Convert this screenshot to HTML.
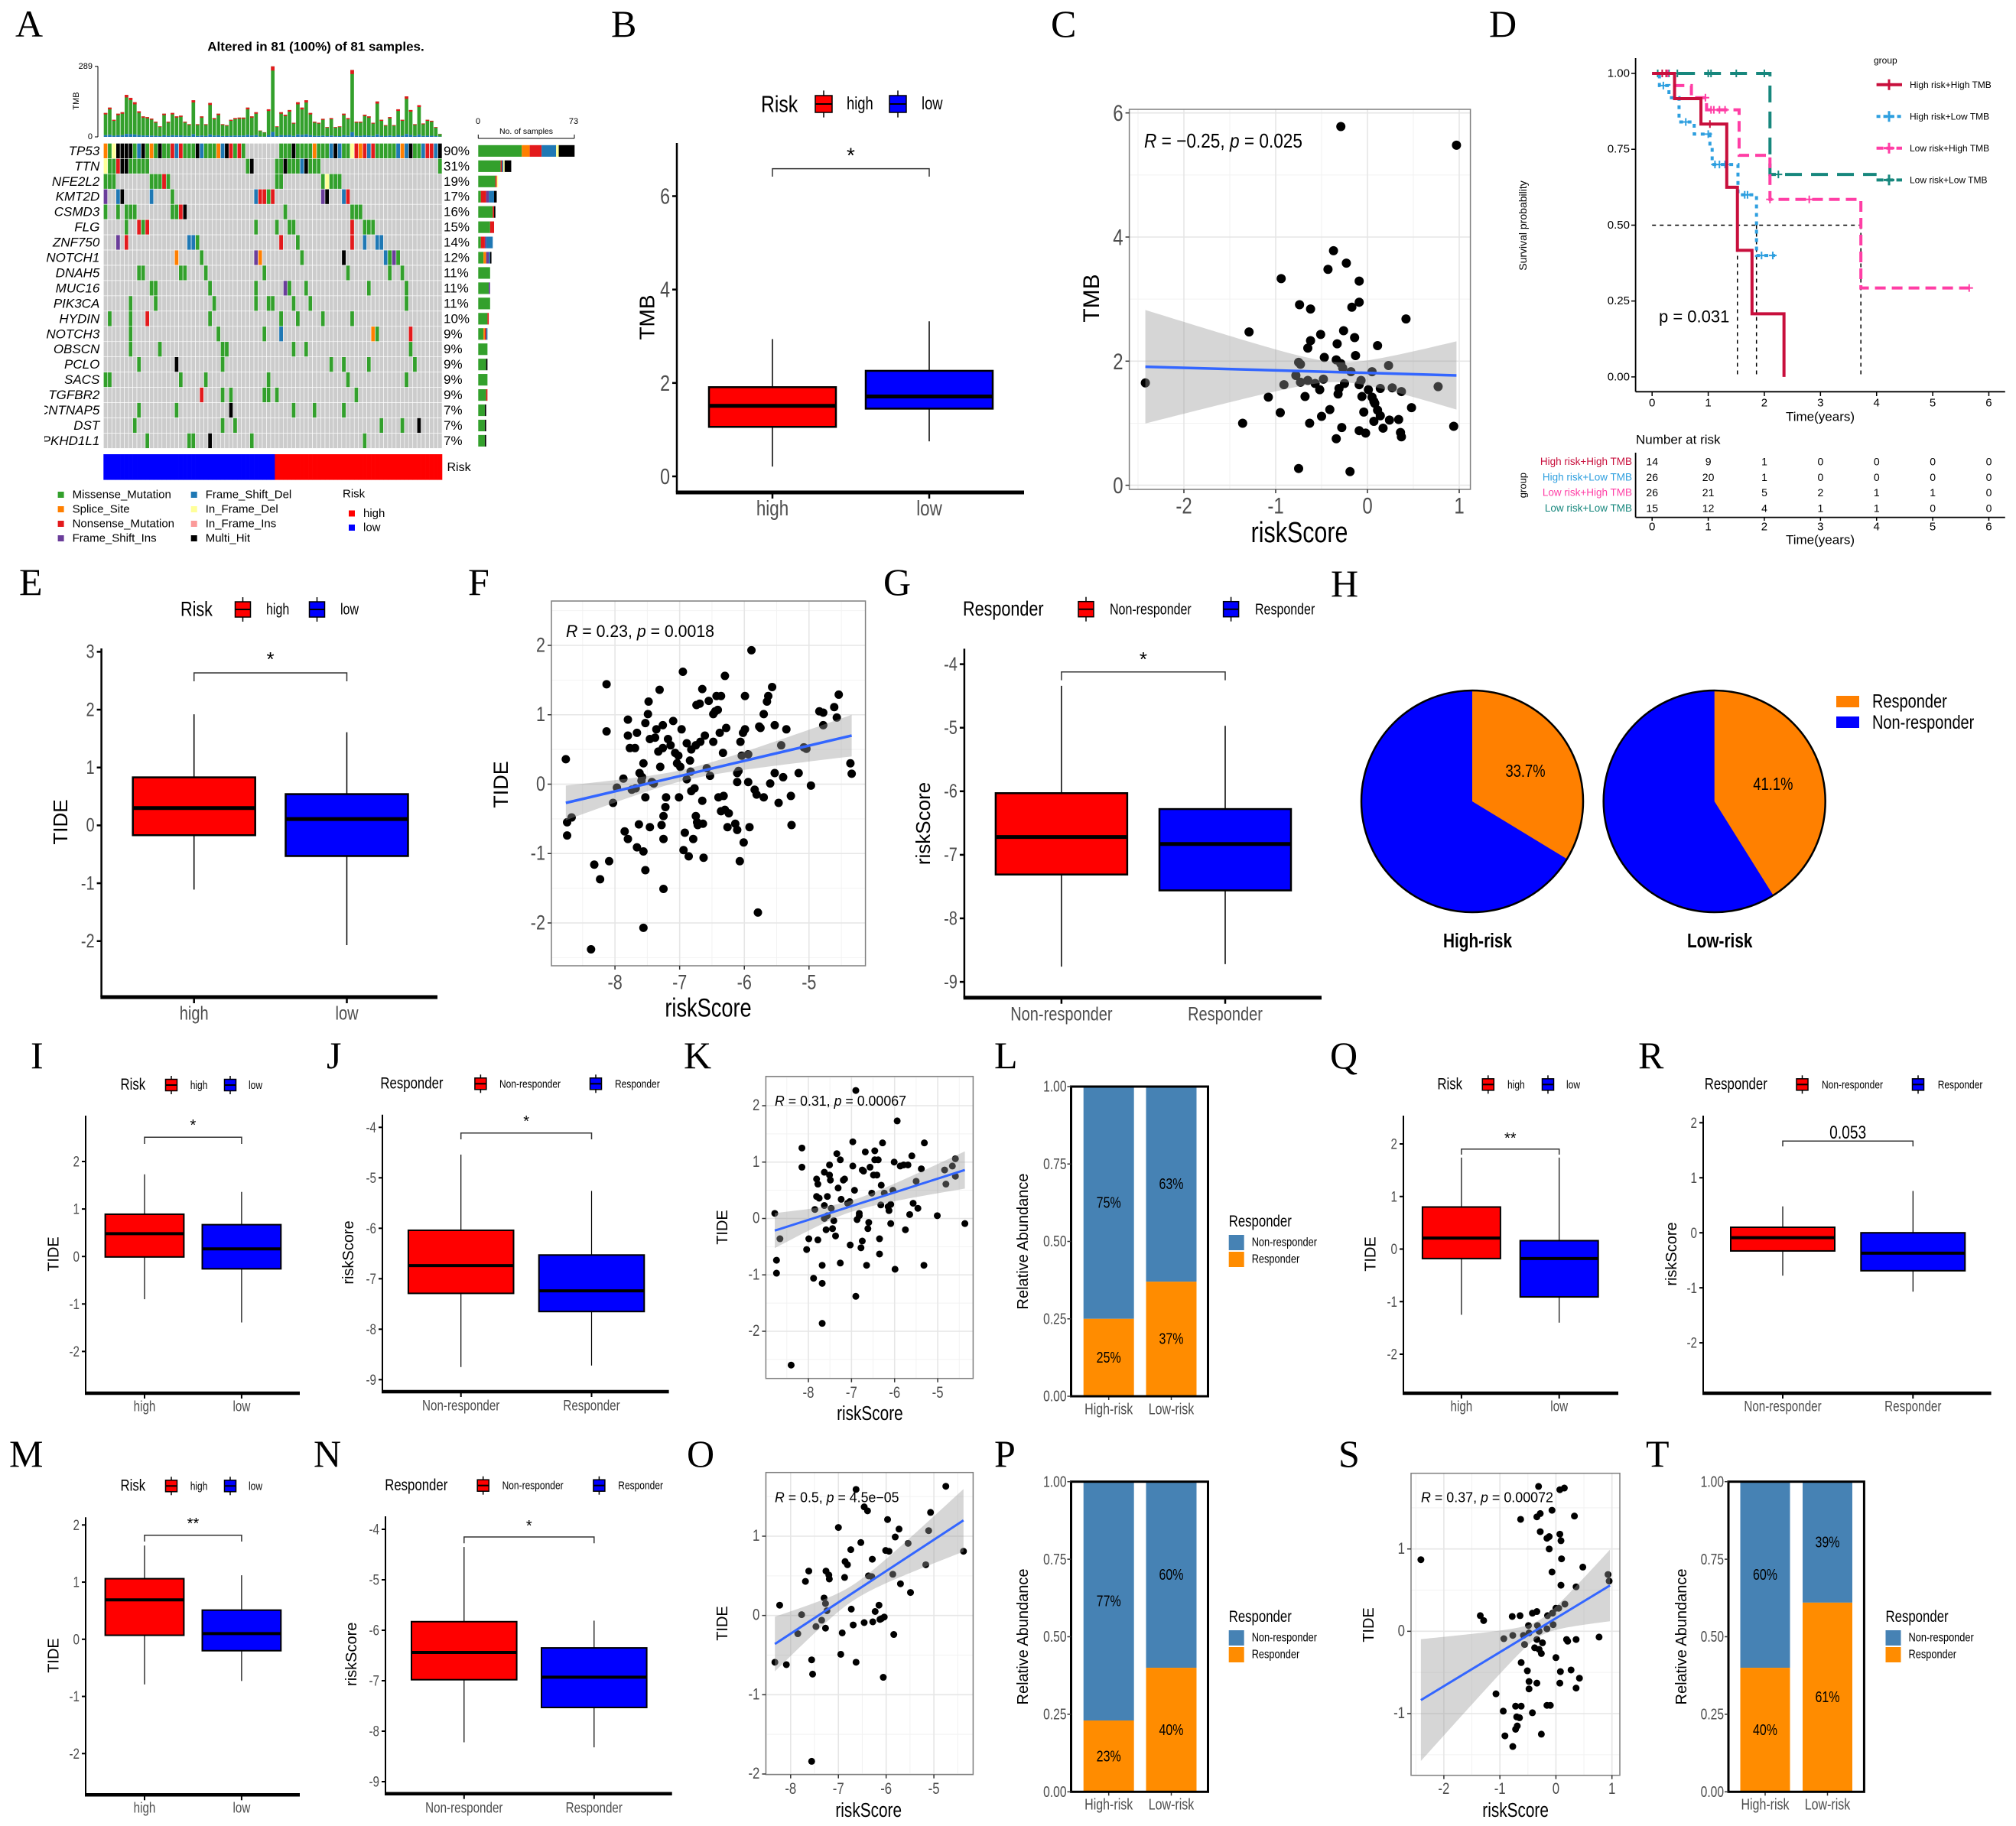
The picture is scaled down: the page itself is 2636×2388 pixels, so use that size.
<!DOCTYPE html>
<html><head><meta charset="utf-8">
<style>html,body{margin:0;padding:0;background:#fff}svg{display:block}</style>
</head><body>
<svg id="fig" width="2636" height="2388" viewBox="0 0 2636 2388" xmlns="http://www.w3.org/2000/svg">
<rect x="0" y="0" width="2636" height="2388" fill="#fff"/>
<g font-family="Liberation Serif, serif" font-size="50" fill="#000">
<text x="20" y="48">A</text>
<text x="799" y="48">B</text>
<text x="1374" y="48">C</text>
<text x="1947" y="48">D</text>
<text x="25" y="778">E</text>
<text x="612" y="778">F</text>
<text x="1155" y="778">G</text>
<text x="1740" y="780">H</text>
<text x="40" y="1397">I</text>
<text x="427" y="1397">J</text>
<text x="894" y="1397">K</text>
<text x="1300" y="1397">L</text>
<text x="1739" y="1397">Q</text>
<text x="2142" y="1397">R</text>
<text x="12" y="1918">M</text>
<text x="410" y="1918">N</text>
<text x="898" y="1918">O</text>
<text x="1300" y="1918">P</text>
<text x="1750" y="1918">S</text>
<text x="2152" y="1918">T</text>
</g>
</svg>
<script>
// ================= DATA =================
// Panel A oncoplot
const A_genes=['TP53','TTN','NFE2L2','KMT2D','CSMD3','FLG','ZNF750','NOTCH1','DNAH5','MUC16','PIK3CA','HYDIN','NOTCH3','OBSCN','PCLO','SACS','TGFBR2','CNTNAP5','DST','PKHD1L1'];
const A_muts=[
"0S,1M,2d,3X,4X,5X,6X,7M,8D,9X,10M,11S,12M,13X,14M,15M,16N,17D,18N,19M,20M,21M,22X,23D,24M,25M,26M,27S,28D,29X,30N,31M,32N,33M,42M,43M,44M,45X,46M,47M,48M,49M,50S,51M,52M,53M,54D,55X,56D,57M,58M,59d,60N,61S,62N,63D,64N,65M,66M,67M,68M,69M,70D,71S,72D,73X,74M,75M,76D,77N,78N,79D,80X",
"0d,1M,2M,3N,4X,5X,6M,7M,8M,9M,10M,34M,35X,41M,42M,43X,44M,45M,46M,47D,48X,49M,50M,51M,80M",
"0M,1M,2M,11M,12M,13M,14N,15M,41M,42M,52M,53d,54M,55M,56M",
"0I,3D,4X,11D,16M,36D,37N,38N,39M,40N,52I,53X,57D,58N",
"0M,3M,5M,6M,7M,16M,17M,18N,19X,43M,59M,60M,61M",
"5M,8N,9M,10N,36M,41M,44M,45M,59N,62M,63M,64M",
"3I,5N,20D,21D,22M,42N,46M,59N,62D,65D,66D",
"17S,23M,36I,37S,47M,57X,67D,68M,69I,70M",
"8M,9M,18M,19M,24M,38M,58M,68M,71M",
"11M,12M,25M,36M,43I,44M,48M,63M,72M",
"6M,12M,26M,36M,39M,40M,45M,49M,72M",
"1M,6M,10N,25M,42M,46M,52M,59M",
"6M,27M,38M,42D,64S,65M,73N",
"6M,13M,28M,29M,45M,48M,73M",
"8M,17X,28M,54M,57M,63M,74M",
"0M,1M,18M,24M,39M,58M,72M",
"23N,28M,30M,38M,39M,41M,60M",
"8M,17M,30X,45M,50M,57M",
"7M,28M,31M,66M,71M,75X",
"10M,20M,21M,25X,35M,62M"];
const A_tmb=[98,120,70,95,101,172,160,142,105,84,81,75,62,43,95,62,98,84,87,62,52,150,52,84,52,139,77,95,52,48,70,77,79,79,120,84,101,26,19,113,289,43,101,91,110,58,142,120,150,98,62,58,74,40,77,40,43,95,77,274,62,62,91,84,58,145,70,48,81,48,113,70,166,110,52,130,55,70,66,40,12];
const A_risk='LLLLLLLLLLLLLLLLLLLLLLLLLLLLLLLLLLLLLLLLLHHHHHHHHHHHHHHHHHHHHHHHHHHHHHHHHHHHHHHHH';
const A_nSamples=81;
// Panel B
const B_groups=['high','low'];
const B_q1=[1.06,1.45], B_med=[1.51,1.71], B_q3=[1.91,2.26], B_lo=[0.21,0.75], B_hi=[2.94,3.32];
const B_ticks=[0,2,4,6];
// Panel C
const C_x=[-0.29,0.97,-0.37,-0.23,-0.43,-0.09,-0.94,-0.74,-0.62,-0.09,-0.17,0.42,-1.29,-0.26,-0.51,-0.14,-0.62,-0.33,-0.65,0.11,-0.47,-0.13,-0.75,-0.34,-0.73,-0.29,-0.27,0.23,0.05,-0.78,-0.07,-0.48,-0.65,-0.57,-0.73,-0.25,-0.91,0.77,-0.52,-0.31,-0.09,0.01,0.14,0.27,0.37,-1.08,-0.68,-0.32,-0.06,0.05,0.07,0.08,-0.41,0.48,-0.95,-0.04,0.11,0.14,-0.50,0.24,0.34,0.07,-1.36,-0.63,-0.28,0.17,0.94,-0.09,-0.02,0.36,0.37,-0.34,-0.75,-0.19,-2.42,-0.18];
const C_y=[5.78,5.48,3.78,3.58,3.48,3.29,3.33,2.91,2.84,2.95,2.87,2.68,2.47,2.49,2.43,2.38,2.33,2.28,2.21,2.25,2.06,2.09,1.98,2.02,1.95,1.96,1.89,1.93,1.83,1.77,1.69,1.71,1.69,1.64,1.66,1.64,1.62,1.59,1.54,1.56,1.62,1.54,1.56,1.57,1.51,1.42,1.43,1.47,1.43,1.42,1.35,1.32,1.22,1.25,1.17,1.18,1.21,1.12,1.11,1.05,1.06,1.03,1.00,1.00,0.93,0.92,0.95,0.88,0.84,0.85,0.78,0.75,0.27,0.22,1.65,1.83];
const C_fitX=[-2.42,0.97], C_fitY=[1.91,1.77];
const C_band=[-0.3,0.16,0.915,0.55];
const C_xticks=[-2,-1,0,1], C_yticks=[0,2,4,6];
// Panel D
const D_labels=['High risk+High TMB','High risk+Low TMB','Low risk+High TMB','Low risk+Low TMB'];
const D_HH_t=[0,0.4,0.87,1.33,1.52,1.78,2.35], D_HH_s=[1,0.917,0.833,0.625,0.417,0.208,0];
const D_HL_t=[0,0.13,0.3,0.48,0.75,1.03,1.07,1.53,1.86], D_HL_s=[1,0.96,0.92,0.84,0.80,0.76,0.70,0.60,0.40];
const D_LH_t=[0,0.4,0.7,0.97,1.55,2.1,3.72], D_LH_s=[1,0.96,0.92,0.88,0.73,0.585,0.293];
const D_LL_t=[0,2.1], D_LL_s=[1,0.667];
const D_end=[2.35,2.19,5.7,4.0];
const D_HH_c=[0.18,0.25,1.03], D_HL_c=[0.2,0.6,1.0,1.12,1.2,1.3,1.65,1.7,1.95,2.15];
const D_LH_c=[0.28,0.95,1.05,1.1,1.2,1.3,2.1,2.8,5.65], D_LL_c=[0.1,0.3,0.45,1.0,1.05,1.5,2.0,2.25];
const D_risk=[[14,9,1,0,0,0,0],[26,20,1,0,0,0,0],[26,21,5,2,1,1,0],[15,12,4,1,1,0,0]];
const D_pval='p = 0.031';
// Panel E
const E_groups=['high','low'];
const E_q1=[-0.17,-0.53], E_med=[0.30,0.11], E_q3=[0.83,0.54], E_lo=[-1.11,-2.07], E_hi=[1.92,1.61];
const E_ticks=[-2,-1,0,1,2,3];
// Panel F
const F_x=[-8.76,-8.74,-8.74,-8.67,-8.32,-8.23,-8.09,-8.13,-8.13,-8.03,-7.97,-7.87,-7.85,-7.80,-7.80,-7.80,-7.77,-7.74,-7.69,-7.68,-7.66,-7.66,-7.63,-7.62,-7.59,-7.58,-7.56,-7.56,-7.53,-7.53,-7.56,-7.53,-7.49,-7.48,-7.46,-7.46,-7.43,-7.40,-7.38,-7.36,-7.33,-7.31,-7.30,-7.28,-7.26,-7.26,-7.25,-7.25,-7.25,-7.22,-7.21,-7.18,-7.14,-7.10,-7.07,-7.04,-7.02,-7.01,-6.99,-6.97,-6.95,-6.94,-6.92,-6.89,-6.89,-6.86,-6.84,-6.83,-6.82,-6.82,-6.79,-6.77,-6.75,-6.75,-6.74,-6.73,-6.72,-6.69,-6.68,-6.65,-6.65,-6.64,-6.63,-6.61,-6.58,-6.55,-6.53,-6.48,-6.48,-6.45,-6.43,-6.41,-6.40,-6.38,-6.36,-6.36,-6.33,-6.32,-6.30,-6.30,-6.28,-6.26,-6.24,-6.14,-6.11,-6.11,-6.11,-6.09,-6.07,-6.06,-6.04,-6.02,-6.01,-5.99,-5.99,-5.94,-5.94,-5.92,-5.89,-5.84,-5.81,-5.79,-5.77,-5.75,-5.70,-5.70,-5.65,-5.63,-5.60,-5.57,-5.53,-5.53,-5.47,-5.43,-5.40,-5.35,-5.28,-5.27,-5.16,-5.08,-5.04,-4.97,-4.84,-4.78,-4.78,-4.61,-4.57,-4.54,-4.36,-4.34,-8.37];
const F_y=[0.36,-0.74,-0.55,-0.48,-1.16,-1.37,-1.11,1.44,0.76,-0.27,-0.05,0.08,-0.68,-0.79,0.93,0.70,0.52,-0.08,0.52,-0.06,0.74,-0.91,-0.58,0.16,0.05,0.10,0.30,-0.97,-0.19,-1.24,-2.07,0.88,1.01,1.19,0.65,-0.62,0.03,0.01,0.67,0.79,0.47,1.36,0.25,-0.59,0.85,0.52,-1.51,-0.79,-0.46,-0.33,-0.19,0.65,0.56,0.91,0.45,0.30,0.41,-0.19,0.25,0.79,1.62,-0.95,-0.70,0.07,0.59,-1.04,0.34,0.18,-0.10,0.50,-0.79,-0.06,0.56,-0.46,1.14,-0.55,-0.59,1.16,0.61,1.37,-0.24,-0.57,-1.06,0.70,0.23,1.20,0.12,1.01,0.61,1.05,1.27,1.07,-0.19,0.74,-0.39,1.27,0.45,-0.17,1.56,-0.37,0.81,-0.62,-0.42,-0.57,0.16,0.03,-0.66,0.19,-1.11,0.61,0.41,0.74,-0.84,1.27,0.79,0.03,0.43,-0.62,1.93,-0.08,-0.15,-1.85,0.83,0.81,1.01,-0.19,1.19,1.27,0.01,1.40,0.85,0.16,-0.27,0.56,0.10,0.79,-0.17,-0.59,0.16,0.53,0.51,-0.02,1.05,1.03,0.85,1.11,0.96,1.29,0.30,0.15,-2.38];
const F_fitX=[-8.76,-4.34], F_fitY=[-0.27,0.70];
const F_band=[-6.9,0.08,0.25,0.30];
const F_xticks=[-8,-7,-6,-5], F_yticks=[-2,-1,0,1,2];
// Panel G
const G_groups=['Non-responder','Responder'];
const G_q1=[-7.31,-7.56], G_med=[-6.72,-6.83], G_q3=[-6.03,-6.28], G_lo=[-8.76,-8.72], G_hi=[-4.34,-4.97];
const G_ticks=[-9,-8,-7,-6,-5,-4];
// Panel H
const H_groups=['High-risk','Low-risk'];
const H_respPct=[33.7,41.1];
// Panel I
const I_groups=['high','low'];
const I_q1=[-0.01,-0.26], I_med=[0.48,0.16], I_q3=[0.89,0.67], I_lo=[-0.90,-1.39], I_hi=[1.73,1.36];
const I_ticks=[-2,-1,0,1,2];
// Panel J
const J_groups=['Non-responder','Responder'];
const J_q1=[-7.29,-7.65], J_med=[-6.74,-7.24], J_q3=[-6.04,-6.53], J_lo=[-8.75,-8.72], J_hi=[-4.54,-5.26];
const J_ticks=[-9,-8,-7,-6,-5,-4];
// Panel K
const K_x=[-8.78,-8.66,-8.74,-8.74,-8.40,-8.15,-8.15,-8.04,-7.99,-7.88,-7.85,-7.81,-7.78,-7.78,-7.81,-7.75,-7.68,-7.68,-7.68,-7.63,-7.63,-7.63,-7.59,-7.56,-7.56,-7.51,-7.51,-7.49,-7.47,-7.44,-7.41,-7.37,-7.34,-7.31,-7.26,-7.26,-7.24,-7.19,-7.16,-7.09,-7.04,-7.03,-6.97,-6.97,-6.93,-6.90,-6.87,-6.82,-6.82,-6.78,-6.75,-6.75,-6.72,-6.68,-6.65,-6.62,-6.60,-6.57,-6.53,-6.49,-6.46,-6.46,-6.41,-6.38,-6.35,-6.35,-6.32,-6.31,-6.28,-6.24,-6.15,-6.13,-6.09,-6.09,-6.04,-6.01,-5.99,-5.94,-5.87,-5.79,-5.75,-5.69,-5.65,-5.60,-5.57,-5.50,-5.46,-5.38,-5.32,-5.31,-5.01,-4.84,-4.81,-4.66,-4.59,-4.59,-4.37,-6.90];
const K_y=[0.09,-0.36,-0.74,-0.97,-2.60,1.25,0.91,-0.55,-0.36,-1.06,0.16,0.70,0.61,-0.38,0.39,0.36,-1.15,-0.83,-1.86,0.82,0.23,0.00,-0.20,0.05,0.39,0.95,0.77,0.68,0.18,-0.18,-0.04,-0.31,1.15,0.54,1.04,-0.79,0.34,0.68,0.70,0.27,0.30,-0.47,1.36,0.93,0.50,-1.38,-0.02,0.05,0.09,-0.52,-0.40,0.86,0.84,1.18,-0.83,-0.18,-0.07,0.91,0.45,0.77,1.04,1.20,0.77,1.04,-0.63,-0.36,0.24,0.59,1.34,0.45,0.21,0.14,0.25,-0.09,0.50,1.00,-0.90,1.73,0.93,0.95,-0.20,0.95,0.07,1.11,0.27,0.66,0.18,0.88,-0.83,1.34,0.05,0.86,0.61,0.93,1.06,0.75,-0.09,2.27];
const K_fitX=[-8.78,-4.37], K_fitY=[-0.215,0.86];
const K_band=[-7.0,0.1,0.31,0.33];
const K_xticks=[-8,-7,-6,-5], K_yticks=[-2,-1,0,1,2];
// Panel L
const L_groups=['High-risk','Low-risk'];
const L_resp=[0.25,0.37];
// Panel M
const M_groups=['high','low'];
const M_q1=[0.07,-0.20], M_med=[0.69,0.10], M_q3=[1.06,0.51], M_lo=[-0.79,-0.73], M_hi=[1.64,1.12];
const M_ticks=[-2,-1,0,1,2];
// Panel N
const N_groups=['Non-responder','Responder'];
const N_q1=[-6.98,-7.53], N_med=[-6.44,-6.93], N_q3=[-5.83,-6.35], N_lo=[-8.22,-8.32], N_hi=[-4.35,-5.81];
const N_ticks=[-9,-8,-7,-6,-5,-4];
// Panel O
const O_x=[-8.23,-8.09,-8.33,-7.77,-7.85,-7.69,-7.62,-7.56,-7.54,-7.56,-7.47,-7.35,-7.27,-7.30,-7.27,-7.24,-7.26,-7.20,-7.19,-7.00,-6.92,-6.95,-6.87,-6.86,-6.81,-6.74,-6.73,-6.69,-6.63,-6.63,-6.53,-6.46,-6.46,-6.39,-6.37,-6.30,-6.29,-6.28,-6.23,-6.15,-6.13,-6.10,-6.06,-6.04,-6.01,-5.97,-5.94,-5.86,-5.84,-5.81,-5.73,-5.70,-5.54,-5.49,-5.17,-5.11,-5.07,-4.75,-4.38];
const O_y=[0.13,-0.62,-0.59,0.01,-0.23,0.43,0.56,-0.56,-0.74,-1.84,-0.14,-0.06,-0.16,0.22,0.15,0.06,0.56,0.51,0.46,1.11,-0.22,-0.49,0.48,0.68,0.64,0.83,0.08,-0.12,-0.59,1.59,0.92,-0.09,1.37,1.32,0.50,0.49,0.71,-0.08,0.05,0.13,-0.05,-0.04,-0.78,-0.02,0.82,1.21,0.81,0.52,-0.24,0.99,1.09,0.40,0.91,0.29,0.64,1.07,1.30,1.63,0.81];
const O_fitX=[-8.33,-4.38], O_fitY=[-0.36,1.20];
const O_band=[-6.7,0.1,0.345,0.395];
const O_xticks=[-8,-7,-6,-5], O_yticks=[-2,-1,0,1];
// Panel P
const P_groups=['High-risk','Low-risk'];
const P_resp=[0.23,0.40];
// Panel Q
const Q_groups=['high','low'];
const Q_q1=[-0.18,-0.91], Q_med=[0.21,-0.18], Q_q3=[0.80,0.16], Q_lo=[-1.25,-1.40], Q_hi=[1.74,1.74];
const Q_ticks=[-2,-1,0,1,2];
// Panel R
const R_groups=['Non-responder','Responder'];
const R_q1=[-0.33,-0.69], R_med=[-0.09,-0.37], R_q3=[0.10,0.0], R_lo=[-0.78,-1.07], R_hi=[0.48,0.76];
const R_ticks=[-2,-1,0,1,2];
// Panel S
const S_x=[-2.41,-0.31,0.07,0.15,-0.07,-0.28,-0.34,-0.63,0.33,-0.28,-0.12,0.07,-0.16,0.09,-0.12,0.10,0.48,-0.07,0.93,0.95,0.09,0.36,0.16,0.00,0.05,-0.34,-0.42,-0.06,-0.15,-0.64,-0.78,-1.35,-1.29,-0.49,-0.33,-0.05,-0.16,-0.30,-0.48,-0.77,-0.58,-0.93,-0.34,-0.24,0.19,0.21,0.36,0.77,-0.56,-0.38,-0.30,-0.26,0.00,-0.62,-0.51,0.08,0.27,0.42,-0.48,-0.34,0.07,0.36,-0.48,-1.07,-0.72,-0.62,-0.16,-0.10,-0.94,-0.42,-0.70,-0.65,-0.69,-0.72,-0.91,-0.26,-0.77];
const S_y=[0.87,1.76,1.72,1.74,1.47,1.43,1.39,1.36,1.40,1.21,1.15,1.18,1.13,1.10,1.00,0.88,0.78,0.72,0.69,0.61,0.56,0.54,0.33,0.28,0.28,0.24,0.22,0.22,0.19,0.19,0.18,0.19,0.13,0.07,0.07,0.08,0.03,0.00,-0.02,-0.05,-0.05,-0.09,-0.10,-0.14,-0.10,-0.12,-0.10,-0.07,-0.16,-0.20,-0.22,-0.27,-0.32,-0.38,-0.48,-0.49,-0.47,-0.57,-0.61,-0.63,-0.63,-0.69,-0.70,-0.76,-0.91,-0.91,-0.90,-0.90,-0.97,-0.99,-1.04,-1.05,-1.15,-1.19,-1.27,-1.25,-1.40];
const S_fitX=[-2.41,0.965], S_fitY=[-0.836,0.557];
const S_band=[-0.3,0.1,0.74,0.435];
const S_xticks=[-2,-1,0,1], S_yticks=[-1,0,1];
// Panel T
const T_groups=['High-risk','Low-risk'];
const T_resp=[0.40,0.61];

// ================= HELPERS =================
const NS='http://www.w3.org/2000/svg';
const svg=document.getElementById('fig');
const SANS='Liberation Sans, sans-serif';
const GRAY='#4d4d4d';
function mk(tag,attrs,parent,name){
  const e=document.createElementNS(NS,tag);
  for(const k in attrs) e.setAttribute(k,attrs[k]);
  
  
  (parent||svg).appendChild(e);
  return e;
}
function tx(x,y,s,o,parent,name){
  o=o||{};
  let tr=`translate(${x},${y})`;
  if(o.rot) tr+=` rotate(${o.rot})`;
  if(o.sx) tr+=` scale(${o.sx},1)`;
  const a={x:0,y:0,transform:tr,'font-size':o.size||16,'font-family':o.family||SANS,fill:o.fill||'#000','text-anchor':o.anchor||'start','dominant-baseline':'central'};
  if(o.weight) a['font-weight']=o.weight;
  if(o.style) a['font-style']=o.style;
  if(o.w){a.textLength=o.w;a.lengthAdjust='spacingAndGlyphs';}
  const t=mk('text',a,parent,name);
  t.textContent=s;
  return t;
}
function annot(x,y,r,p,size,w,parent){
  const t=mk('text',{x:x,y:y,'font-size':size,'font-family':SANS,'dominant-baseline':'central',textLength:w,lengthAdjust:'spacingAndGlyphs'},parent,'correlation-annotation');
  const parts=[['R',1],[' = '+r+', ',0],['p',1],[' = '+p,0]];
  parts.forEach(pp=>{const s=document.createElementNS(NS,'tspan'); if(pp[1]) s.setAttribute('font-style','italic'); s.textContent=pp[0]; t.appendChild(s);});
  return t;
}
function fmt(v){return String(v).replace('-','-');}

// ================= BOX PANELS =================
function boxPanel(P,groups,q1,med,q3,lo,hi){
  const g=mk('g',{},svg,P.name);
  const yp=v=>P.yA+(v-P.vA)*(P.yB-P.yA)/(P.vB-P.vA);
  mk('line',{x1:P.ax,y1:P.top,x2:P.ax,y2:P.bottom,stroke:'#000','stroke-width':P.aw},g,'y-axis-line');
  mk('line',{x1:P.ax-P.aw/2,y1:P.bottom,x2:P.right,y2:P.bottom,stroke:'#000','stroke-width':P.bw},g,'x-axis-line');
  P.ticks.forEach(v=>{
    const y=yp(v);
    mk('line',{x1:P.ax-P.tl,x2:P.ax,y1:y,y2:y,stroke:'#000','stroke-width':P.aw},g,'y-tick');
    tx(P.ax-P.tl-3,y,fmt(v),{size:P.ts,fill:GRAY,anchor:'end',sx:0.8},g,'y-tick-label');
  });
  groups.forEach((nm,i)=>{
    const cx=P.c0+i*P.dc;
    mk('line',{x1:cx,x2:cx,y1:P.bottom,y2:P.bottom+P.tl+2,stroke:'#000','stroke-width':P.aw},g,'x-tick');
    tx(cx,P.xly,nm,{size:P.xs,fill:GRAY,anchor:'middle',sx:0.8},g,'x-tick-label');
    mk('line',{x1:cx,x2:cx,y1:yp(hi[i]),y2:yp(q3[i]),stroke:'#000','stroke-width':P.ww},g,'whisker-upper');
    mk('line',{x1:cx,x2:cx,y1:yp(q1[i]),y2:yp(lo[i]),stroke:'#000','stroke-width':P.ww},g,'whisker-lower');
    mk('rect',{x:cx-P.hw,y:yp(q3[i]),width:2*P.hw,height:yp(q1[i])-yp(q3[i]),fill:P.colors[i],stroke:'#000','stroke-width':P.sw},g,'box-'+nm.toLowerCase());
    mk('line',{x1:cx-P.hw,x2:cx+P.hw,y1:yp(med[i]),y2:yp(med[i]),stroke:'#000','stroke-width':P.mw},g,'median-line');
  });
  tx(P.ylx,P.yly,P.ylab,{size:P.ls,rot:-90,anchor:'middle'},g,'y-axis-title');
  // legend
  const L=P.leg;
  const lg=mk('g',{},g,'legend');
  tx(L.tx,L.y,L.title,{size:L.ts,sx:0.8},lg,'legend-title');
  groups.forEach((nm,i)=>{
    const kx=L.kx[i];
    mk('line',{x1:kx,x2:kx,y1:L.y-L.k*0.8,y2:L.y+L.k*0.8,stroke:'#000','stroke-width':1.5},lg,'legend-key-whisker');
    mk('rect',{x:kx-L.k/2,y:L.y-L.k/2,width:L.k,height:L.k,fill:P.colors[i],stroke:'#000','stroke-width':1.5},lg,'legend-key');
    mk('line',{x1:kx-L.k/2,x2:kx+L.k/2,y1:L.y,y2:L.y,stroke:'#000','stroke-width':2},lg,'legend-key-median');
    tx(L.lx[i],L.y,nm,{size:L.ls,sx:0.8},lg,'legend-label');
  });
  // significance
  const S=P.sig, c0=P.c0, c1=P.c0+P.dc;
  mk('path',{d:`M${c0},${S.dy} V${S.by} H${c1} V${S.dy}`,fill:'none',stroke:'#333','stroke-width':1.5},g,'significance-bracket');
  tx((c0+c1)/2,S.ty,S.t,{size:S.ts,anchor:'middle',sx:S.sx||1},g,'significance-label');
}
const RB=['#ff0000','#0000ff'];
boxPanel({name:'panel-b',ax:885,top:187,bottom:644,right:1339,yA:623,vA:0,yB:256.5,vB:6,ticks:B_ticks,c0:1010,dc:205,hw:83,colors:RB,
  aw:2.5,bw:5,tl:6,ts:29,xs:28,xly:665,ww:1.5,sw:2.5,mw:5,ylab:'TMB',ylx:846,yly:415,ls:28,
  leg:{y:136,tx:995,title:'Risk',ts:31,k:22,kx:[1077,1174],lx:[1107,1205],ls:23},
  sig:{t:'*',ty:203,by:220.6,dy:231,ts:28}},B_groups,B_q1,B_med,B_q3,B_lo,B_hi);
boxPanel({name:'panel-e',ax:132.6,top:848,bottom:1304,right:572,yA:1079.4,vA:0,yB:852.4,vB:3,ticks:E_ticks,c0:253.7,dc:199.8,hw:80,colors:RB,
  aw:2.5,bw:5,tl:6,ts:25,xs:25,xly:1325,ww:1.5,sw:2.5,mw:5,ylab:'TIDE',ylx:79,yly:1075,ls:26,
  leg:{y:797,tx:236,title:'Risk',ts:27,k:20,kx:[317.5,414.5],lx:[348,445],ls:20},
  sig:{t:'*',ty:862,by:880,dy:891,ts:26}},E_groups,E_q1,E_med,E_q3,E_lo,E_hi);
boxPanel({name:'panel-g',ax:1260.9,top:848.4,bottom:1304.7,right:1728,yA:868.6,vA:-4,yB:1284.1,vB:-9,ticks:G_ticks,c0:1387.9,dc:214.1,hw:86,colors:RB,
  aw:2.5,bw:5,tl:6,ts:25,xs:25,xly:1326,ww:1.5,sw:2.5,mw:5,ylab:'riskScore',ylx:1207,yly:1077,ls:26,
  leg:{y:796.7,tx:1259,title:'Responder',ts:27,k:20,kx:[1420,1609.6],lx:[1451,1641],ls:20},
  sig:{t:'*',ty:862,by:878.7,dy:889.6,ts:26}},G_groups,G_q1,G_med,G_q3,G_lo,G_hi);
boxPanel({name:'panel-i',ax:112,top:1459,bottom:1822,right:392,yA:1643.2,vA:0,yB:1519,vB:2,ticks:I_ticks,c0:189,dc:126.9,hw:51.4,colors:RB,
  aw:2,bw:4.5,tl:5,ts:19,xs:19,xly:1839,ww:1.2,sw:2,mw:4,ylab:'TIDE',ylx:70.5,yly:1640,ls:20,
  leg:{y:1419,tx:157.5,title:'Risk',ts:21,k:15,kx:[224,301],lx:[248.7,325],ls:15},
  sig:{t:'*',ty:1472,by:1487.3,dy:1496,ts:20}},I_groups,I_q1,I_med,I_q3,I_lo,I_hi);
boxPanel({name:'panel-j',ax:500,top:1457.7,bottom:1820,right:874.6,yA:1474.3,vA:-4,yB:1804.3,vB:-9,ticks:J_ticks,c0:602.7,dc:170.8,hw:68.8,colors:RB,
  aw:2,bw:4.5,tl:5,ts:19,xs:19,xly:1838,ww:1.2,sw:2,mw:4,ylab:'riskScore',ylx:456,yly:1638,ls:20,
  leg:{y:1417.3,tx:497.4,title:'Responder',ts:21,k:15,kx:[628.4,779],lx:[653,804],ls:15},
  sig:{t:'*',ty:1467,by:1481.7,dy:1490,ts:20}},J_groups,J_q1,J_med,J_q3,J_lo,J_hi);
boxPanel({name:'panel-q',ax:1835,top:1459,bottom:1822,right:2116,yA:1633.5,vA:0,yB:1496,vB:2,ticks:Q_ticks,c0:1910.9,dc:127.8,hw:51,colors:RB,
  aw:2,bw:4.5,tl:5,ts:19,xs:19,xly:1839,ww:1.2,sw:2,mw:4,ylab:'TIDE',ylx:1792.5,yly:1640,ls:20,
  leg:{y:1418.3,tx:1879.4,title:'Risk',ts:21,k:15,kx:[1945.8,2024],lx:[1971,2048],ls:15},
  sig:{t:'**',ty:1489,by:1502.7,dy:1510,ts:20}},Q_groups,Q_q1,Q_med,Q_q3,Q_lo,Q_hi);
boxPanel({name:'panel-r',ax:2227,top:1459,bottom:1822,right:2603.6,yA:1612.2,vA:0,yB:1468.3,vB:2,ticks:R_ticks,c0:2331,dc:170.3,hw:68,colors:RB,
  aw:2,bw:4.5,tl:5,ts:19,xs:19,xly:1839,ww:1.2,sw:2,mw:4,ylab:'riskScore',ylx:2186,yly:1640,ls:20,
  leg:{y:1418.3,tx:2228.7,title:'Responder',ts:21,k:15,kx:[2356.5,2508],lx:[2382,2533.7],ls:15},
  sig:{t:'0.053',ty:1480.7,by:1492.3,dy:1499.3,ts:24,sx:0.8}},R_groups,R_q1,R_med,R_q3,R_lo,R_hi);
boxPanel({name:'panel-m',ax:112,top:1984.3,bottom:2347.3,right:392,yA:2143.8,vA:0,yB:1994.3,vB:2,ticks:M_ticks,c0:189,dc:126.9,hw:51.4,colors:RB,
  aw:2,bw:4.5,tl:5,ts:19,xs:19,xly:2364,ww:1.2,sw:2,mw:4,ylab:'TIDE',ylx:70.5,yly:2165,ls:20,
  leg:{y:1943.3,tx:157.5,title:'Risk',ts:21,k:15,kx:[224,301],lx:[248.7,325],ls:15},
  sig:{t:'**',ty:1993,by:2007.7,dy:2016,ts:20}},M_groups,M_q1,M_med,M_q3,M_lo,M_hi);
boxPanel({name:'panel-n',ax:504,top:1983,bottom:2345.7,right:878.7,yA:2000,vA:-4,yB:2330,vB:-9,ticks:N_ticks,c0:606.8,dc:170,hw:68.8,colors:RB,
  aw:2,bw:4.5,tl:5,ts:19,xs:19,xly:2364,ww:1.2,sw:2,mw:4,ylab:'riskScore',ylx:460,yly:2163.3,ls:20,
  leg:{y:1942.7,tx:503.2,title:'Responder',ts:21,k:15,kx:[631.7,783.4],lx:[656.6,808.3],ls:15},
  sig:{t:'*',ty:1996,by:2010,dy:2018.3,ts:20}},N_groups,N_q1,N_med,N_q3,N_lo,N_hi);

// ================= SCATTER PANELS =================
function scatter(P,xs,ys,fitX,fitY,band,xt,yt){
  const g=mk('g',{},svg,P.name);
  const X=v=>P.xA+(v-P.xvA)*(P.xB-P.xA)/(P.xvB-P.xvA);
  const Y=v=>P.yA+(v-P.yvA)*(P.yB-P.yA)/(P.yvB-P.yvA);
  const invX=p=>P.xvA+(p-P.xA)*(P.xvB-P.xvA)/(P.xB-P.xA);
  const invY=p=>P.yvA+(p-P.yA)*(P.yvB-P.yvA)/(P.yB-P.yA);
  mk('rect',{x:P.x,y:P.y,width:P.w,height:P.h,fill:'#fff'},g,'plot-background');
  const xmin=invX(P.x),xmax=invX(P.x+P.w),ymin=invY(P.y+P.h),ymax=invY(P.y);
  const xs_=xt[1]-xt[0], ys_=yt[1]-yt[0];
  for(let i=-1;i<xt.length;i++){const v=xt[0]+(i+0.5)*xs_; if(v>xmin&&v<xmax) mk('line',{x1:X(v),x2:X(v),y1:P.y,y2:P.y+P.h,stroke:'#f2f2f2','stroke-width':1},g,'minor-gridline-x');}
  for(let i=-1;i<yt.length;i++){const v=yt[0]+(i+0.5)*ys_; if(v>ymin&&v<ymax) mk('line',{x1:P.x,x2:P.x+P.w,y1:Y(v),y2:Y(v),stroke:'#f2f2f2','stroke-width':1},g,'minor-gridline-y');}
  xt.forEach(v=>mk('line',{x1:X(v),x2:X(v),y1:P.y,y2:P.y+P.h,stroke:'#e6e6e6','stroke-width':1.6},g,'major-gridline-x'));
  yt.forEach(v=>mk('line',{x1:P.x,x2:P.x+P.w,y1:Y(v),y2:Y(v),stroke:'#e6e6e6','stroke-width':1.6},g,'major-gridline-y'));
  xs.forEach((v,i)=>{
    const c=mk('circle',{cx:X(v),cy:Y(ys[i]),r:P.r,fill:'#000'},g,'point');
  });
  // band
  const [x0,h0,hL,hR]=band;
  const kL=Math.sqrt(Math.max(hL*hL-h0*h0,0))/Math.abs(fitX[0]-x0);
  const kR=Math.sqrt(Math.max(hR*hR-h0*h0,0))/Math.abs(fitX[1]-x0);
  const cen=x=>fitY[0]+(x-fitX[0])*(fitY[1]-fitY[0])/(fitX[1]-fitX[0]);
  const half=x=>{const k=x<x0?kL:kR; return Math.sqrt(h0*h0+k*k*(x-x0)*(x-x0));};
  const up=[],dn=[];
  for(let i=0;i<=60;i++){const x=fitX[0]+(fitX[1]-fitX[0])*i/60; up.push(X(x)+','+Y(cen(x)+half(x))); dn.unshift(X(x)+','+Y(cen(x)-half(x)));}
  mk('polygon',{points:up.concat(dn).join(' '),fill:'#999999','fill-opacity':0.4,stroke:'none'},g,'confidence-band');
  mk('line',{x1:X(fitX[0]),y1:Y(fitY[0]),x2:X(fitX[1]),y2:Y(fitY[1]),stroke:'#3366ff','stroke-width':P.lw},g,'regression-line');
  mk('rect',{x:P.x,y:P.y,width:P.w,height:P.h,fill:'none',stroke:'#7f7f7f','stroke-width':1.5},g,'panel-border');
  xt.forEach(v=>{mk('line',{x1:X(v),x2:X(v),y1:P.y+P.h,y2:P.y+P.h+5,stroke:'#333','stroke-width':1.5},g,'x-tick'); tx(X(v),P.xly,fmt(v),{size:P.ts,fill:GRAY,anchor:'middle',sx:0.8},g,'x-tick-label');});
  yt.forEach(v=>{mk('line',{x1:P.x-5,x2:P.x,y1:Y(v),y2:Y(v),stroke:'#333','stroke-width':1.5},g,'y-tick'); tx(P.x-8,Y(v),fmt(v),{size:P.ts,fill:GRAY,anchor:'end',sx:0.8},g,'y-tick-label');});
  tx(P.xlx,P.xlyy,'riskScore',{size:P.xls,anchor:'middle',sx:0.8},g,'x-axis-title');
  tx(P.ylx,P.yly,P.ylab,{size:P.yls,anchor:'middle',rot:-90},g,'y-axis-title');
  annot(P.ax,P.ay,P.r_,P.p_,P.as,P.aw,g);
}
scatter({name:'panel-c',x:1476.6,y:143,w:446,h:497,xA:1548,xvA:-2,xB:1908,xvB:1,yA:147.7,yvA:6,yB:634.6,yvB:0,r:6,lw:3.5,ts:30,xly:661,
  xlx:1699,xlyy:697,xls:38,ylab:'TMB',ylx:1427.5,yly:390,yls:30,ax:1496,ay:184,r_:'\u22120.25',p_:'0.025',as:26,aw:207},C_x,C_y,C_fitX,C_fitY,C_band,C_xticks,C_yticks);
scatter({name:'panel-f',x:721,y:786,w:410.6,h:477,xA:804.1,xvA:-8,xB:1057.8,xvB:-5,yA:844,yvA:2,yB:1207,yvB:-2,r:5.5,lw:3.5,ts:27,xly:1285,
  xlx:926,xlyy:1318,xls:34,ylab:'TIDE',ylx:655,yly:1026,yls:27,ax:740,ay:825,r_:'0.23',p_:'0.0018',as:22,aw:194},F_x,F_y,F_fitX,F_fitY,F_band,F_xticks,F_yticks);
scatter({name:'panel-k',x:1001.4,y:1407.7,w:271,h:395,xA:1057,xvA:-8,xB:1226.1,xvB:-5,yA:1446,yvA:2,yB:1741,yvB:-2,r:4.5,lw:3,ts:21,xly:1822,
  xlx:1137.4,xlyy:1848,xls:26,ylab:'TIDE',ylx:945,yly:1605,yls:20,ax:1013,ay:1440,r_:'0.31',p_:'0.00067',as:18,aw:172},K_x,K_y,K_fitX,K_fitY,K_band,K_xticks,K_yticks);
scatter({name:'panel-o',x:1001.4,y:1925.7,w:271,h:395,xA:1033.8,xvA:-8,xB:1221.1,xvB:-5,yA:2009,yvA:1,yB:2320,yvB:-2,r:4.5,lw:3,ts:21,xly:2340,
  xlx:1135.7,xlyy:2367,xls:26,ylab:'TIDE',ylx:945,yly:2123,yls:20,ax:1013,ay:1958.3,r_:'0.5',p_:'4.5e\u221205',as:18,aw:162.5},O_x,O_y,O_fitX,O_fitY,O_band,O_xticks,O_yticks);
scatter({name:'panel-s',x:1845,y:1926.7,w:273,h:395,xA:1887.9,xvA:-2,xB:2107.7,xvB:1,yA:2025.7,yvA:1,yB:2241,yvB:-1,r:4.5,lw:3,ts:21,xly:2340,
  xlx:1981.6,xlyy:2367,xls:26,ylab:'TIDE',ylx:1790,yly:2125,yls:20,ax:1858,ay:1958.3,r_:'0.37',p_:'0.00072',as:18,aw:173},S_x,S_y,S_fitX,S_fitY,S_band,S_xticks,S_yticks);

// ================= STACKED BARS =================
function stackPanel(P,groups,resp){
  const g=mk('g',{},svg,P.name);
  const Y=v=>P.y0+(P.y1-P.y0)*v;
  groups.forEach((nm,i)=>{
    const bx=P.bx[i];
    mk('rect',{x:bx,y:Y(1),width:P.bw,height:Y(resp[i])-Y(1),fill:'#4682b4'},g,'bar-non-responder-'+nm.toLowerCase());
    mk('rect',{x:bx,y:Y(resp[i]),width:P.bw,height:Y(0)-Y(resp[i]),fill:'#ff8c00'},g,'bar-responder-'+nm.toLowerCase());
    tx(bx+P.bw/2,(Y(1)+Y(resp[i]))/2,Math.round((1-resp[i])*100)+'%',{size:20,anchor:'middle',sx:0.8},g,'bar-label');
    tx(bx+P.bw/2,(Y(0)+Y(resp[i]))/2,Math.round(resp[i]*100)+'%',{size:20,anchor:'middle',sx:0.8},g,'bar-label');
    mk('line',{x1:bx+P.bw/2,x2:bx+P.bw/2,y1:P.y0,y2:P.y0+5,stroke:'#333','stroke-width':1.5},g,'x-tick');
    tx(bx+P.bw/2,P.xly,nm,{size:20,fill:GRAY,anchor:'middle',sx:0.8},g,'x-tick-label');
  });
  mk('rect',{x:P.fx,y:P.y1,width:P.fw,height:P.y0-P.y1,fill:'none',stroke:'#000','stroke-width':3},g,'panel-border');
  [0,0.25,0.5,0.75,1].forEach(v=>{
    mk('line',{x1:P.fx-5,x2:P.fx,y1:Y(v),y2:Y(v),stroke:'#333','stroke-width':1.5},g,'y-tick');
    tx(P.fx-6,Y(v),v.toFixed(2),{size:20,fill:GRAY,anchor:'end',sx:0.78},g,'y-tick-label');
  });
  tx(P.ylx,(P.y0+P.y1)/2,'Relative Abundance',{size:20,anchor:'middle',rot:-90,w:178},g,'y-axis-title');
  const lg=mk('g',{},g,'legend');
  tx(P.lx,P.lty,'Responder',{size:21,sx:0.8},lg,'legend-title');
  mk('rect',{x:P.lx,y:P.lky,width:20,height:20,fill:'#4682b4'},lg,'legend-key-non-responder');
  mk('rect',{x:P.lx,y:P.lky+22,width:20,height:20,fill:'#ff8c00'},lg,'legend-key-responder');
  tx(P.lx+30,P.lky+10,'Non-responder',{size:16,sx:0.8},lg,'legend-label');
  tx(P.lx+30,P.lky+32,'Responder',{size:16,sx:0.8},lg,'legend-label');
}
stackPanel({name:'panel-l',fx:1400.5,fw:179,y1:1421,y0:1826,bx:[1416.7,1498.5],bw:66,xly:1843,ylx:1338,lx:1606.7,lty:1597.7,lky:1615},L_groups,L_resp);
stackPanel({name:'panel-p',fx:1400.5,fw:179,y1:1937.7,y0:2343.3,bx:[1416.7,1498.5],bw:66,xly:2360,ylx:1338,lx:1606.7,lty:2115,lky:2132},P_groups,P_resp);
stackPanel({name:'panel-t',fx:2260,fw:177.4,y1:1937.7,y0:2343.3,bx:[2275.5,2357],bw:65,xly:2360,ylx:2199,lx:2465.5,lty:2115,lky:2132},T_groups,T_resp);

// ================= PIES (H) =================
(function(){
  const g=mk('g',{},svg,'panel-h');
  const cxs=[1925,2241.7], cy=1048, r=145;
  H_respPct.forEach((p,i)=>{
    const cx=cxs[i], a=p/100*2*Math.PI;
    const ex=cx+r*Math.sin(a), ey=cy-r*Math.cos(a);
    mk('circle',{cx:cx,cy:cy,r:r,fill:'#0000ff'},g,'pie-non-responder');
    mk('path',{d:`M${cx},${cy} L${cx},${cy-r} A${r},${r} 0 ${a>Math.PI?1:0} 1 ${ex},${ey} Z`,fill:'#ff8000'},g,'pie-responder');
    mk('circle',{cx:cx,cy:cy,r:r,fill:'none',stroke:'#000','stroke-width':2.5},g,'pie-outline');
    const la=a/2, lr=r*0.55;
    tx(cx+lr*Math.sin(la),cy-lr*Math.cos(la),p.toFixed(1)+'%',{size:23,anchor:'middle',sx:0.8},g,'pie-label');
    tx(cx+7,1230,H_groups[i],{size:26,weight:'bold',anchor:'middle',sx:0.8},g,'pie-title');
  });
  mk('rect',{x:2401,y:910,width:30,height:15,fill:'#ff8000'},g,'legend-key-responder');
  mk('rect',{x:2401,y:937,width:30,height:15,fill:'#0000ff'},g,'legend-key-non-responder');
  tx(2448,917,'Responder',{size:25,sx:0.8},g,'legend-label');
  tx(2448,944.5,'Non-responder',{size:25,sx:0.8},g,'legend-label');
})();

// ================= KM (D) =================
(function(){
  const g=mk('g',{},svg,'panel-d');
  const xT=t=>2160.2+t*73.38, yS=s=>492.9-s*396.9;
  const cols=['#c80f3c','#2e9fdf','#ff3ea5','#17877d'];
  const dash=['none','5,6','14,8','22,12'];
  const T=[D_HH_t,D_HL_t,D_LH_t,D_LL_t], Sv=[D_HH_s,D_HL_s,D_LH_s,D_LL_s], Cs=[D_HH_c,D_HL_c,D_LH_c,D_LL_c];
  mk('line',{x1:2138.6,y1:76,x2:2138.6,y2:512.3,stroke:'#000','stroke-width':1.8},g,'y-axis-line');
  mk('line',{x1:2138.6,y1:512.3,x2:2621.8,y2:512.3,stroke:'#000','stroke-width':1.8},g,'x-axis-line');
  [0,0.25,0.5,0.75,1].forEach(v=>{mk('line',{x1:2133,x2:2138.6,y1:yS(v),y2:yS(v),stroke:'#000','stroke-width':1.5},g,'y-tick'); tx(2131,yS(v),v.toFixed(2),{size:15,anchor:'end'},g,'y-tick-label');});
  for(let t=0;t<=6;t++){mk('line',{x1:xT(t),x2:xT(t),y1:512.3,y2:518,stroke:'#000','stroke-width':1.5},g,'x-tick'); tx(xT(t),527,String(t),{size:15,anchor:'middle'},g,'x-tick-label');}
  tx(2380,545,'Time(years)',{size:17,anchor:'middle'},g,'x-axis-title');
  tx(1991,295,'Survival probability',{size:14,anchor:'middle',rot:-90},g,'y-axis-title');
  const sAt=(t,s,c)=>{let v=s[0]; for(let i=0;i<t.length;i++) if(t[i]<=c) v=s[i]; return v;};
  // median lines
  const meds=[];
  T.forEach((t,k)=>{for(let i=0;i<t.length;i++){if(Sv[k][i]<=0.5){meds.push(t[i]);break;}}});
  const mmax=Math.max(...meds);
  mk('line',{x1:xT(0),x2:xT(mmax),y1:yS(0.5),y2:yS(0.5),stroke:'#000','stroke-width':1.5,'stroke-dasharray':'5,5'},g,'median-line-horizontal');
  meds.forEach(m=>mk('line',{x1:xT(m),x2:xT(m),y1:yS(0.5),y2:yS(0),stroke:'#000','stroke-width':1.5,'stroke-dasharray':'5,5'},g,'median-line-vertical'));
  [3,2,1,0].forEach(k=>{
    const t=T[k], s=Sv[k];
    let d=`M${xT(t[0])},${yS(s[0])}`;
    for(let i=1;i<t.length;i++) d+=` H${xT(t[i])} V${yS(s[i])}`;
    d+=` H${xT(D_end[k])}`;
    const a={d:d,fill:'none',stroke:cols[k],'stroke-width':4};
    if(dash[k]!=='none') a['stroke-dasharray']=dash[k];
    mk('path',a,g,'km-curve-'+k);
    Cs[k].forEach(c=>{const y=yS(sAt(t,s,c)),x=xT(c); mk('path',{d:`M${x-5},${y} H${x+5} M${x},${y-5} V${y+5}`,stroke:cols[k],'stroke-width':2},g,'censor-mark');});
  });
  tx(2169,414,D_pval,{size:22},g,'p-value');
  // legend
  tx(2450,79,'group',{size:12},g,'legend-title');
  [110.8,152.3,193.8,235.4].forEach((y,k)=>{
    const a={x1:2453.6,x2:2487,y1:y,y2:y,stroke:cols[k],'stroke-width':4};
    if(dash[k]!=='none') a['stroke-dasharray']=k===1?'5,4':'9,4';
    mk('line',a,g,'legend-key');
    mk('path',{d:`M2463,${y} H2477 M2470,${y-7} V${y+7}`,stroke:cols[k],'stroke-width':3},g,'legend-key-cross');
    tx(2497,y,D_labels[k],{size:12},g,'legend-label');
  });
  // risk table
  tx(2139,575,'Number at risk',{size:17},g,'risk-table-title');
  mk('line',{x1:2138.6,y1:592,x2:2138.6,y2:676.6,stroke:'#000','stroke-width':1.8},g,'table-y-axis');
  mk('line',{x1:2138.6,y1:676.6,x2:2621.8,y2:676.6,stroke:'#000','stroke-width':1.8},g,'table-x-axis');
  const ry=[603.6,624,644,664.6];
  D_risk.forEach((row,k)=>{
    tx(2134,ry[k],D_labels[k],{size:13.5,fill:cols[k],anchor:'end'},g,'risk-table-row-label');
    row.forEach((v,t)=>tx(xT(t),ry[k],String(v),{size:14,anchor:'middle'},g,'risk-count'));
  });
  for(let t=0;t<=6;t++){mk('line',{x1:xT(t),x2:xT(t),y1:676.6,y2:681,stroke:'#000','stroke-width':1.5},g,'table-x-tick'); tx(xT(t),689,String(t),{size:15,anchor:'middle'},g,'table-x-tick-label');}
  tx(2380,706,'Time(years)',{size:17,anchor:'middle'},g,'table-x-axis-title');
  tx(1991,634.6,'group',{size:13,anchor:'middle',rot:-90},g,'table-y-axis-title');
})();

// ================= ONCOPLOT (A) =================
(function(){
  const g=mk('g',{},svg,'panel-a');
  const COL={M:'#33a02c',S:'#ff7f00',N:'#e31a1c',I:'#6a3d9a',D:'#1f78b4',d:'#ffff99',i:'#fb9a99',X:'#000000'};
  const ORDER=['M','S','N','I','D','d','i','X'];
  const x0=135.3, cw=(578-135.3)/A_nSamples, y0=187.4, rh=19.95;
  tx(413,61,'Altered in 81 (100%) of 81 samples.',{size:17,weight:'bold',anchor:'middle'},g,'oncoplot-title');
  // TMB bars
  const tTop=86.8, tBot=179, tMax=289;
  mk('line',{x1:128,x2:128,y1:tTop,y2:tBot,stroke:'#000','stroke-width':1},g,'tmb-axis');
  mk('line',{x1:124,x2:128,y1:tTop,y2:tTop,stroke:'#000','stroke-width':1},g,'tmb-tick');
  mk('line',{x1:124,x2:128,y1:tBot,y2:tBot,stroke:'#000','stroke-width':1},g,'tmb-tick');
  tx(121,tTop,String(tMax),{size:11,anchor:'end'},g,'tmb-tick-label');
  tx(121,tBot,'0',{size:11,anchor:'end'},g,'tmb-tick-label');
  tx(100,132,'TMB',{size:11,anchor:'middle',rot:-90},g,'tmb-axis-title');
  A_tmb.forEach((v,i)=>{
    const h=v*(tBot-tTop)/tMax, x=x0+i*cw+0.4, w=cw-0.8;
    mk('rect',{x:x,y:tBot-h,width:w,height:h*0.93,fill:'#33a02c'},g,'tmb-bar');
    mk('rect',{x:x,y:tBot-h,width:w,height:h*0.06,fill:'#e31a1c'},g,'tmb-bar-nonsense');
    mk('rect',{x:x,y:tBot-h*0.07,width:w,height:h*0.07,fill:'#1f78b4'},g,'tmb-bar-fsdel');
  });
  // clip for gene labels
  const defs=mk('defs',{},g,'defs');
  const cp=mk('clipPath',{id:'geneclip'},defs,'gene-label-clip');
  mk('rect',{x:58,y:180,width:80,height:420},cp,'clip-rect');
  const lab=mk('g',{'clip-path':'url(#geneclip)'},g,'gene-labels');
  A_genes.forEach((gene,r)=>{
    const y=y0+r*rh;
    const muts={};
    A_muts[r].split(',').forEach(s=>{muts[parseInt(s)]=s.replace(/[0-9]/g,'');});
    for(let c=0;c<A_nSamples;c++){
      mk('rect',{x:x0+c*cw,y:y,width:cw,height:rh,fill:muts[c]?COL[muts[c]]:'#cccccc',stroke:'#ffffff','stroke-width':0.6},g,'cell');
    }
    const cnt=Object.keys(muts).length;
    tx(130.3,y+rh/2,gene,{size:17,style:'italic',anchor:'end'},lab,'gene-label');
    tx(580,y+rh/2,Math.round(cnt/A_nSamples*100)+'%',{size:17},g,'percent-label');
    // right bar
    let bx=625.3; const sc=126/73;
    ORDER.forEach(tp=>{
      const n=Object.values(muts).filter(v=>v===tp).length;
      if(n>0){mk('rect',{x:bx,y:y+rh*0.12,width:n*sc,height:rh*0.76,fill:COL[tp]},g,'sample-count-bar'); bx+=n*sc;}
    });
  });
  mk('line',{x1:625.3,x2:751,y1:181,y2:181,stroke:'#000','stroke-width':1},g,'count-axis');
  mk('line',{x1:625.3,x2:625.3,y1:176,y2:181,stroke:'#000','stroke-width':1},g,'count-tick');
  mk('line',{x1:751,x2:751,y1:176,y2:181,stroke:'#000','stroke-width':1},g,'count-tick');
  tx(625,159,'0',{size:11,anchor:'middle'},g,'count-tick-label');
  tx(750,159,'73',{size:11,anchor:'middle'},g,'count-tick-label');
  tx(688,172,'No. of samples',{size:10.5,anchor:'middle'},g,'count-axis-title');
  // risk bar
  for(let c=0;c<A_nSamples;c++){
    mk('rect',{x:x0+c*cw,y:594,width:cw+0.3,height:33.6,fill:A_risk[c]==='L'?'#0000ff':'#ff0000'},g,'risk-annotation');
  }
  tx(584.5,611.5,'Risk',{size:16},g,'risk-annotation-label');
  // legend
  const items=[['Missense_Mutation','M'],['Splice_Site','S'],['Nonsense_Mutation','N'],['Frame_Shift_Ins','I'],['Frame_Shift_Del','D'],['In_Frame_Del','d'],['In_Frame_Ins','i'],['Multi_Hit','X']];
  const ly=[647,666,685,704];
  items.forEach((it,k)=>{
    const col=k<4?0:1, row=k%4;
    const sx=col?253.7:79.6;
    mk('rect',{x:sx-4,y:ly[row]-4,width:8,height:8,fill:COL[it[1]]},g,'legend-key');
    tx(sx+15,ly[row],it[0],{size:15},g,'legend-label');
  });
  tx(448,646,'Risk',{size:15},g,'risk-legend-title');
  mk('rect',{x:456,y:667.5,width:8,height:8,fill:'#ff0000'},g,'legend-key-high');
  mk('rect',{x:456,y:686,width:8,height:8,fill:'#0000ff'},g,'legend-key-low');
  tx(475,671.5,'high',{size:15},g,'legend-label');
  tx(475,690,'low',{size:15},g,'legend-label');
})();
</script>
</body></html>
